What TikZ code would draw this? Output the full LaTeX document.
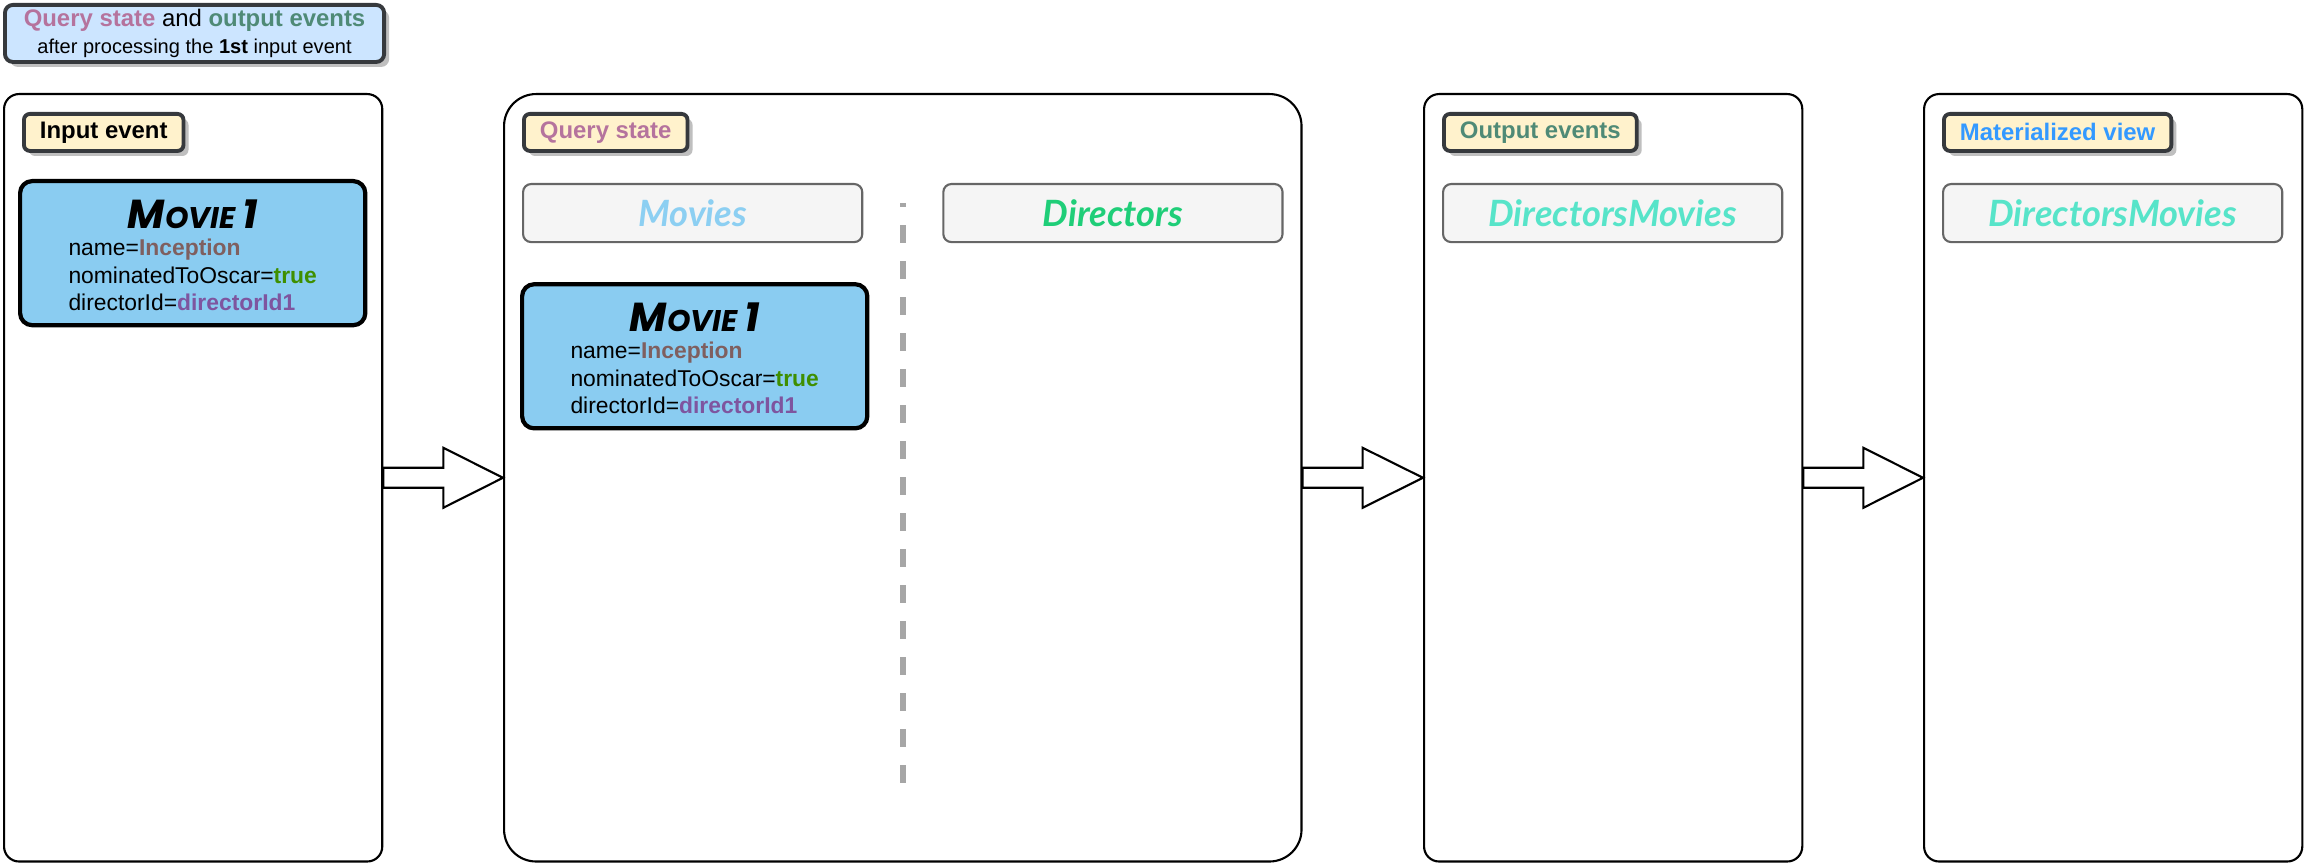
\documentclass[tikz,border=0pt]{standalone}
\usepackage{fontspec}
\setmainfont{Liberation Sans}
\newfontfamily\handfont{Lato}
\newfontfamily\brushfont{Poppins}
\usetikzlibrary{calc,positioning,shadows}

\definecolor{legendfill}{HTML}{CCE5FF}
\definecolor{tagfill}{HTML}{FFF2CC}
\definecolor{tagline}{HTML}{36393D}
\definecolor{hdrfill}{HTML}{F5F5F5}
\definecolor{hdrline}{HTML}{666666}
\definecolor{cardfill}{HTML}{8ACCF1}
\definecolor{qscol}{HTML}{B5739D}
\definecolor{oecol}{HTML}{4F8A76}
\definecolor{mvcol}{HTML}{3399FF}
\definecolor{moviecol}{HTML}{8CCFF2}
\definecolor{dircol}{HTML}{1FCE78}
\definecolor{dmcol}{HTML}{57E4C9}
\definecolor{namecol}{HTML}{7F5F5F}
\definecolor{truecol}{HTML}{3F8F00}
\definecolor{idcol}{HTML}{7E559F}
\definecolor{divcol}{HTML}{A6A6A6}

\tikzset{
  shade box/.style={drop shadow={shadow xshift=0.05cm, shadow yshift=-0.05cm, fill=black!25, opacity=1}},
  legend/.style={draw=tagline, fill=legendfill, line width=1.1pt, rounded corners=0.08cm, anchor=north west,
    minimum width=3.79cm, minimum height=0.57cm, inner ysep=0.5pt, align=center, shade box},
  panel/.style={draw, line width=0.6pt, rounded corners=0.15cm, anchor=north west,
    minimum width=3.78cm, minimum height=7.67cm},
  tag/.style={draw=tagline, fill=tagfill, line width=1.1pt, rounded corners=0.06cm, anchor=north west,
    minimum height=0.37cm, inner xsep=0.16cm, inner ysep=1pt, font=\fontsize{6.8}{8}\selectfont\bfseries, shade box},
  hdr/.style={draw=hdrline, fill=hdrfill, line width=0.6pt, rounded corners=0.08cm,
    minimum width=3.39cm, minimum height=0.58cm, font=\handfont\fontsize{10.3}{12}\selectfont\bfseries\itshape},
  card/.style={draw, fill=cardfill, line width=1.2pt, rounded corners=0.12cm, anchor=north west,
    minimum width=3.45cm, minimum height=1.44cm, inner sep=0pt},
  cardtext/.style={inner sep=0pt, font=\fontsize{6.5}{7.8}\selectfont},
  divider/.style={draw=divcol, line width=1.7pt, dash pattern=on 0.18cm off 0.18cm, dash phase=0.14cm},
  fatarrow/.style={draw, fill=white, line width=0.6pt, line join=miter}
}

% small caps title of a movie card
\newcommand{\cardtitle}{{\brushfont\bfseries\itshape\fontsize{11.5}{11.5}\selectfont M\fontsize{8.5}{8.5}\selectfont OVIE \fontsize{11.5}{11.5}\selectfont 1}}
\newcommand{\movieone}{%
  \begin{tabular}{@{}l@{}}
    \multicolumn{1}{@{}c@{}}{\cardtitle}\\
    name=\textbf{\color{namecol}Inception}\\
    nominatedToOscar=\textbf{\color{truecol}true}\\
    directorId=\textbf{\color{idcol}directorId1}
  \end{tabular}}
% block arrow between two panels
\newcommand{\fatarrow}[2]{%
  \draw[fatarrow] ($(#1.east)+(0,-10)$) -- ++(60,0) -- ++(0,-20) -- (#2.west)
    -- ($(#1.east)+(60,30)$) -- ++(0,-20) -- ($(#1.east)+(0,10)$) -- cycle;}

\begin{document}
\begin{tikzpicture}[x=0.01cm, y=-0.01cm]
  \useasboundingbox (0,0) rectangle (2304,864);
  % legend
  \node[legend, font=\fontsize{6.8}{7.9}\selectfont] (key) at (3,3)
    {\textbf{\color{qscol}Query state} and \textbf{\color{oecol}output events}\\
     {\fontsize{5.7}{7}\selectfont after processing the \textbf{1st} input event}};
  % panels
  \node[panel] (in) at (3,93) {};
  \node[panel, minimum width=7.97cm, rounded corners=0.32cm] (qs) at (503,93) {};
  \node[panel] (out) at (1423,93) {};
  \node[panel] (mv) at (1923,93) {};
  % panel titles
  \node[tag] (inlbl) at ($(in.north west)+(19,19)$) {Input event};
  \node[tag, text=qscol] (qslbl) at ($(qs.north west)+(19,19)$) {Query state};
  \node[tag, text=oecol] (outlbl) at ($(out.north west)+(19,19)$) {Output events};
  \node[tag, text=mvcol] (mvlbl) at ($(mv.north west)+(19,19)$) {Materialized view};
  % tables
  \node[hdr, text=moviecol, anchor=north west] (movies) at ($(qs.north west)+(19,90)$) {Movies};
  \node[hdr, text=dircol, anchor=north east] (directors) at ($(qs.north east)+(-19,90)$) {Directors};
  \node[hdr, text=dmcol, anchor=north west] (outdm) at ($(out.north west)+(19,90)$) {DirectorsMovies};
  \node[hdr, text=dmcol, anchor=north west] (mvdm) at ($(mv.north west)+(19,90)$) {DirectorsMovies};
  \draw[divider] ($(qs.north)+(0,110)$) -- ($(qs.north)+(0,690)$);
  % movie cards
  \node[card] (evt) at ($(in.north west)+(15,86)$) {};
  \node[cardtext] (evttext) at ($(evt.center)+(0,6)$) {\movieone};
  \node[card] (qsmovie) at ($(movies.south west)+(-2,39)$) {};
  \node[cardtext] (qsmovietext) at ($(qsmovie.center)+(0,6)$) {\movieone};
  % flow
  \fatarrow{in}{qs}
  \fatarrow{qs}{out}
  \fatarrow{out}{mv}
\end{tikzpicture}
\end{document}
